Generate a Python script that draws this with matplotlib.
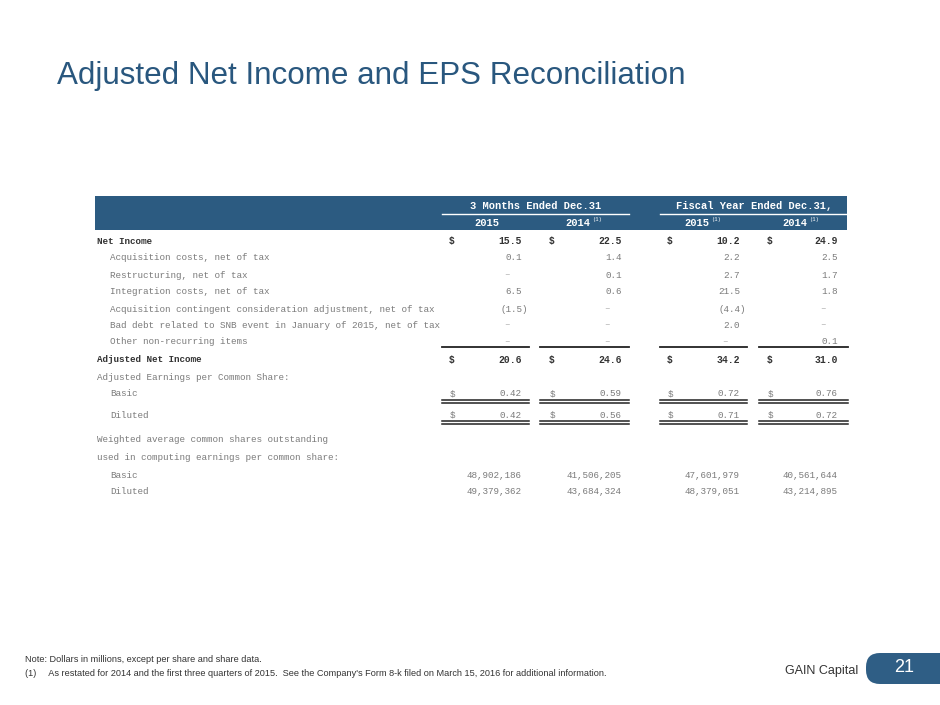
import matplotlib.pyplot as plt
from matplotlib.patches import Rectangle, FancyBboxPatch

# ---- data ----
title = 'Adjusted Net Income and EPS Reconciliation'
group_labels = ['3 Months Ended Dec.31', 'Fiscal Year Ended Dec.31,']
year_labels = ['2015', '2014', '2015', '2014']
year_notes = ['', '(1)', '(1)', '(1)']

row_labels = ['Net Income',
              'Acquisition costs, net of tax',
              'Restructuring, net of tax',
              'Integration costs, net of tax',
              'Acquisition contingent consideration adjustment, net of tax',
              'Bad debt related to SNB event in January of 2015, net of tax',
              'Other non-recurring items',
              'Adjusted Net Income']
row_values = [[15.5, 22.5, 10.2, 24.9],
              [0.1, 1.4, 2.2, 2.5],
              [None, 0.1, 2.7, 1.7],
              [6.5, 0.6, 21.5, 1.8],
              [-1.5, None, -4.4, None],
              [None, None, 2.0, None],
              [None, None, None, 0.1],
              [20.6, 24.6, 34.2, 31.0]]

eps_header = 'Adjusted Earnings per Common Share:'
eps_labels = ['Basic', 'Diluted']
eps_values = [[0.42, 0.59, 0.72, 0.76],
              [0.42, 0.56, 0.71, 0.72]]

shares_header = ['Weighted average common shares outstanding',
                 'used in computing earnings per common share:']
shares_labels = ['Basic', 'Diluted']
shares_values = [[48902186, 41506205, 47601979, 40561644],
                 [49379362, 43684324, 48379051, 43214895]]

note_lines = ['Note: Dollars in millions, except per share and share data.',
              "(1)     As restated for 2014 and the first three quarters of 2015.  See the Company's Form 8-k filed on March 15, 2016 for additional information."]
page_num = '21'

# ---- layout ----
blue = '#2c5b81'
grey = '#7b7b7b'
dark = '#333333'
mono = 'Liberation Mono'
fs = 6.7

col_dollar = [452, 552, 670, 770]
col_right = [522, 622, 740, 838]
col_line = [(442, 529), (540, 629), (660, 747), (759, 848)]

fig = plt.figure(figsize=(9.4, 7.05), dpi=100)
ax = fig.add_axes([0, 0, 1, 1])
ax.set_xlim(0, 940)
ax.set_ylim(705, 0)
ax.axis('off')

ax.text(57, 76, title, fontsize=22.6, color='#29577e', family='Liberation Sans',
        ha='left', va='center')

# header band
ax.add_patch(Rectangle((95, 196), 752, 34, color=blue, lw=0))
ax.text(536, 206, group_labels[0], fontsize=7.5, color='white', family=mono,
        weight='bold', ha='center', va='center')
ax.text(754, 206, group_labels[1], fontsize=7.5, color='white', family=mono,
        weight='bold', ha='center', va='center')
ax.plot([442, 629], [213.5, 213.5], color='white', lw=1)
ax.plot([660, 847], [213.5, 213.5], color='white', lw=1)
year_x = [487, 578, 697, 795]
for x, yr, nt in zip(year_x, year_labels, year_notes):
    ax.text(x, 223, yr, fontsize=7.5, color='white', family=mono, weight='bold',
            ha='center', va='center')
    if nt:
        ax.text(x + 14, 219, nt, fontsize=4, color='white', family=mono,
                ha='left', va='center')


def fmt(v):
    if v is None:
        return '–'
    if v < 0:
        return '({:.1f})'.format(-v)
    return '{:.1f}'.format(v)


row_y = [241, 258, 275, 292, 309, 325, 342, 360]
for i, (lab, vals, y) in enumerate(zip(row_labels, row_values, row_y)):
    bold = i in (0, len(row_labels) - 1)
    c = dark if bold else grey
    w = 'bold' if bold else 'normal'
    lx = 97 if bold else 110
    ax.text(lx, y, lab, fontsize=fs, color=c, family=mono, weight=w,
            ha='left', va='center')
    for j, v in enumerate(vals):
        if bold:
            ax.text(col_dollar[j], y, '$', fontsize=7, color=c, family=mono,
                    weight=w, ha='center', va='center')
        if v is None:
            ax.text(col_right[j] - 15, y, fmt(v), fontsize=fs, color='#aaaaaa',
                    family=mono, ha='center', va='center')
        elif v < 0:
            ax.text(col_right[j] + 6, y, fmt(v), fontsize=fs, color=c,
                    family=mono, weight=w, ha='right', va='center')
        else:
            ax.text(col_right[j], y, fmt(v), fontsize=7 if bold else fs,
                    color=c, family=mono, weight=w, ha='right', va='center')

# single rule above adjusted net income
for x0, x1 in col_line:
    ax.plot([x0, x1], [346.5, 346.5], color='#222222', lw=1.3)

ax.text(97, 378, eps_header, fontsize=fs, color=grey, family=mono,
        ha='left', va='center')
eps_y = [394, 415]
for lab, vals, y in zip(eps_labels, eps_values, eps_y):
    ax.text(110, y, lab, fontsize=fs, color=grey, family=mono,
            ha='left', va='center')
    for j, v in enumerate(vals):
        ax.text(col_dollar[j], y, '$', fontsize=fs, color=grey, family=mono,
                ha='center', va='center')
        ax.text(col_right[j], y, '{:.2f}'.format(v), fontsize=fs, color=grey,
                family=mono, ha='right', va='center')
    for x0, x1 in col_line:
        ax.plot([x0, x1], [y + 6, y + 6], color='#222222', lw=1.1)
        ax.plot([x0, x1], [y + 9, y + 9], color='#222222', lw=1.1)

for k, line in enumerate(shares_header):
    ax.text(97, 440 + 17 * k, line, fontsize=fs, color=grey, family=mono,
            ha='left', va='center')
sh_y = [475, 492]
for lab, vals, y in zip(shares_labels, shares_values, sh_y):
    ax.text(110, y, lab, fontsize=fs, color=grey, family=mono,
            ha='left', va='center')
    for j, v in enumerate(vals):
        ax.text(col_right[j], y, '{:,}'.format(v), fontsize=fs, color=grey,
                family=mono, ha='right', va='center')

# footer
ax.text(25, 660, note_lines[0], fontsize=6.6, color='#333333',
        family='Liberation Sans', ha='left', va='center')
ax.text(25, 673, note_lines[1], fontsize=6.6, color='#333333',
        family='Liberation Sans', ha='left', va='center')
ax.text(858, 671, 'GAIN Capital', fontsize=9, color='#333333',
        family='Liberation Sans', ha='right', va='center')
ax.add_patch(FancyBboxPatch((866, 653), 100, 31,
                            boxstyle='round,pad=0,rounding_size=14',
                            color='#2f5e85', lw=0, zorder=1))
ax.text(904, 668, page_num, fontsize=13, color='white', family='Liberation Sans',
        ha='center', va='center', zorder=2)

fig.savefig('out.png', dpi=100)
